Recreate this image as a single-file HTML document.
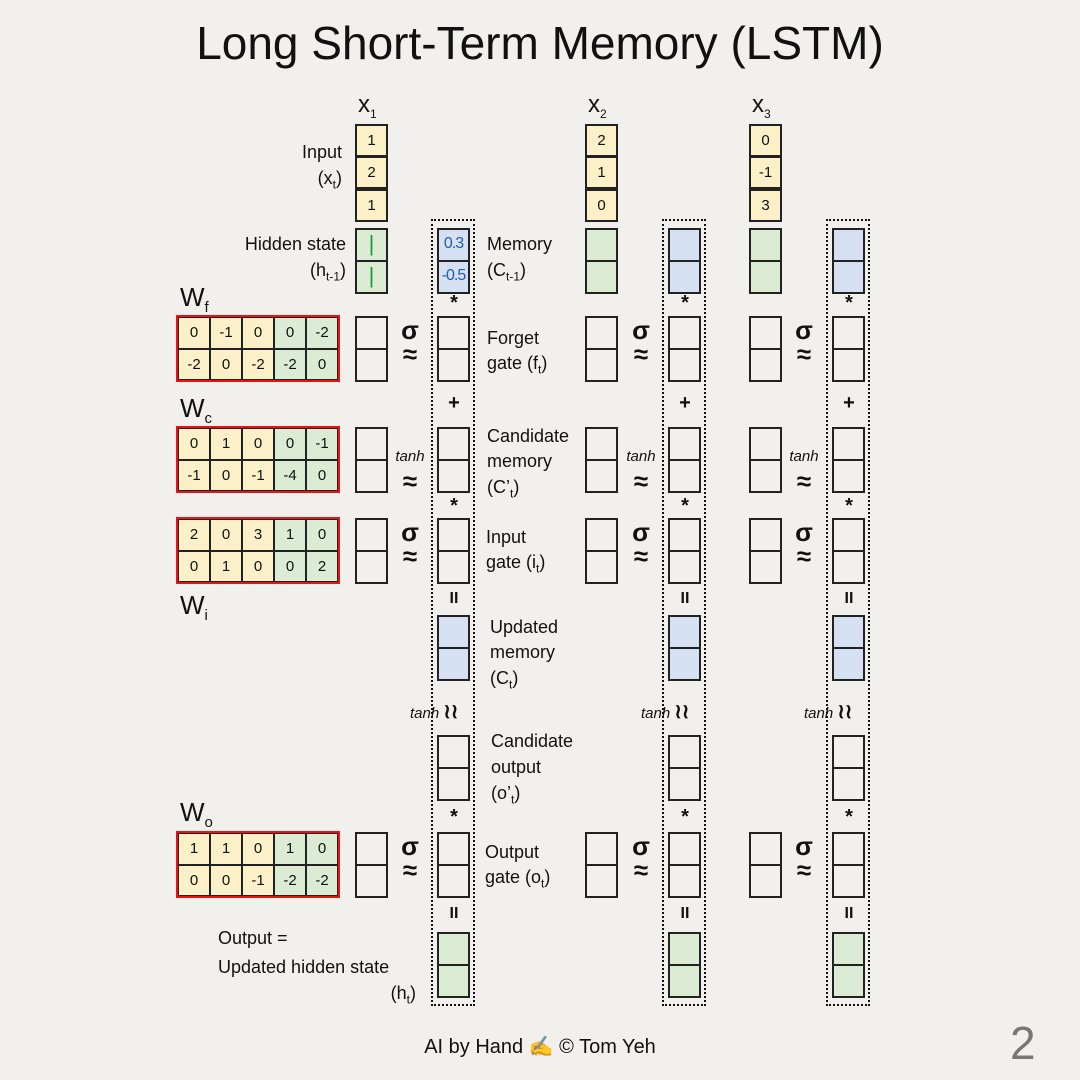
<!DOCTYPE html>
<html><head><meta charset="utf-8"><style>
body{margin:0;width:1080px;height:1080px;background:#f2f0ec;position:relative;overflow:hidden;font-family:"Liberation Sans",sans-serif;color:#111}
.a{position:absolute}
.p{position:absolute;width:33px;height:66px;border:2px solid #222;box-sizing:border-box}
.p::after{content:"";position:absolute;left:0;right:0;top:30px;height:2px;background:#222}
.y{background:#fcf0c8}.g{background:#dcebd3}.bl{background:#d5e0f3}
.c{position:absolute;width:33px;height:33px;border:2px solid #222;box-sizing:border-box;background:#fcf0c8;font-size:15px;text-align:center;line-height:29px}
.d{position:absolute;width:44px;top:219px;height:787px;border:2px dotted #111;box-sizing:border-box}
.s{position:absolute;width:30px;text-align:center;font-size:20px;font-weight:bold}
.sg{position:absolute;width:30px;text-align:center;font-size:26px;font-weight:bold;line-height:24px}
.t{position:absolute;font-size:18px;line-height:26px}
.r{text-align:right}
.m{position:absolute;border:2px solid #e11;box-sizing:border-box;width:164px;height:67px;display:grid;grid-template-columns:repeat(5,1fr);grid-template-rows:1fr 1fr}
.m div{border:1px solid #222;font-size:15px;text-align:center;line-height:29px;background:#fcf0c8}
.m div:nth-child(5n+4),.m div:nth-child(5n){background:#dcebd3}
.w{position:absolute;font-size:26px}
.w sub{font-size:15px}
sub{font-size:12px}
</style></head><body>
<div class="a" style="left:0;width:1080px;top:16px;text-align:center;font-size:46px">Long Short-Term Memory (LSTM)</div>

<div class="t" style="left:358px;top:92px;font-size:24px">x<sub>1</sub></div>
<div class="t" style="left:588px;top:92px;font-size:24px">x<sub>2</sub></div>
<div class="t" style="left:752px;top:92px;font-size:24px">x<sub>3</sub></div>

<div class="c" style="left:355px;top:124px">1</div><div class="c" style="left:355px;top:156px">2</div><div class="c" style="left:355px;top:189px">1</div>
<div class="c" style="left:585px;top:124px">2</div><div class="c" style="left:585px;top:156px">1</div><div class="c" style="left:585px;top:189px">0</div>
<div class="c" style="left:749px;top:124px">0</div><div class="c" style="left:749px;top:156px">-1</div><div class="c" style="left:749px;top:189px">3</div>

<div class="t r" style="left:240px;width:102px;top:139px">Input</div>
<div class="t r" style="left:240px;width:102px;top:165px">(x<sub>t</sub>)</div>
<div class="t r" style="left:200px;width:146px;top:231px">Hidden state</div>
<div class="t r" style="left:200px;width:146px;top:257px">(h<sub>t-1</sub>)</div>

<div class="d" style="left:431px"></div><div class="d" style="left:662px"></div><div class="d" style="left:826px"></div>

<div class="p g" style="left:355px;top:228px"></div>
<div class="a" style="left:355px;top:228px;width:33px;text-align:center;color:#1a9a3a;font-size:22px;line-height:32px">|<br>|</div>
<div class="p bl" style="left:437px;top:228px"></div>
<div class="a" style="left:437px;top:228px;width:33px;text-align:center;color:#1f5fa8;font-size:16px;line-height:32px;letter-spacing:-1px">0.3<br>-0.5</div>
<div class="p g" style="left:585px;top:228px"></div><div class="p bl" style="left:668px;top:228px"></div>
<div class="p g" style="left:749px;top:228px"></div><div class="p bl" style="left:832px;top:228px"></div>

<div class="t" style="left:487px;top:231px">Memory</div>
<div class="t" style="left:487px;top:257px">(C<sub>t-1</sub>)</div>

<div class="p" style="left:355px;top:316px"></div><div class="p" style="left:437px;top:316px"></div>
<div class="p" style="left:585px;top:316px"></div><div class="p" style="left:668px;top:316px"></div>
<div class="p" style="left:749px;top:316px"></div><div class="p" style="left:832px;top:316px"></div>
<div class="p" style="left:355px;top:427px"></div><div class="p" style="left:437px;top:427px"></div>
<div class="p" style="left:585px;top:427px"></div><div class="p" style="left:668px;top:427px"></div>
<div class="p" style="left:749px;top:427px"></div><div class="p" style="left:832px;top:427px"></div>
<div class="p" style="left:355px;top:518px"></div><div class="p" style="left:437px;top:518px"></div>
<div class="p" style="left:585px;top:518px"></div><div class="p" style="left:668px;top:518px"></div>
<div class="p" style="left:749px;top:518px"></div><div class="p" style="left:832px;top:518px"></div>
<div class="p bl" style="left:437px;top:615px"></div><div class="p bl" style="left:668px;top:615px"></div><div class="p bl" style="left:832px;top:615px"></div>
<div class="p" style="left:437px;top:735px"></div><div class="p" style="left:668px;top:735px"></div><div class="p" style="left:832px;top:735px"></div>
<div class="p" style="left:355px;top:832px"></div><div class="p" style="left:437px;top:832px"></div>
<div class="p" style="left:585px;top:832px"></div><div class="p" style="left:668px;top:832px"></div>
<div class="p" style="left:749px;top:832px"></div><div class="p" style="left:832px;top:832px"></div>
<div class="p g" style="left:437px;top:932px"></div><div class="p g" style="left:668px;top:932px"></div><div class="p g" style="left:832px;top:932px"></div>

<div class="s" style="left:439px;top:292px">*</div><div class="s" style="left:670px;top:292px">*</div><div class="s" style="left:834px;top:292px">*</div>
<div class="s" style="left:439px;top:392px">+</div><div class="s" style="left:670px;top:392px">+</div><div class="s" style="left:834px;top:392px">+</div>
<div class="s" style="left:439px;top:495px">*</div><div class="s" style="left:670px;top:495px">*</div><div class="s" style="left:834px;top:495px">*</div>
<div class="s" style="left:439px;top:590px;font-size:16px">II</div><div class="s" style="left:670px;top:590px;font-size:16px">II</div><div class="s" style="left:834px;top:590px;font-size:16px">II</div>
<div class="s" style="left:439px;top:806px">*</div><div class="s" style="left:670px;top:806px">*</div><div class="s" style="left:834px;top:806px">*</div>
<div class="s" style="left:439px;top:905px;font-size:16px">II</div><div class="s" style="left:670px;top:905px;font-size:16px">II</div><div class="s" style="left:834px;top:905px;font-size:16px">II</div>

<div class="sg" style="left:395px;top:318px">σ<br>≈</div><div class="sg" style="left:626px;top:318px">σ<br>≈</div><div class="sg" style="left:789px;top:318px">σ<br>≈</div>
<div class="sg" style="left:395px;top:440px"><span style="font-size:15px;font-style:italic;font-weight:normal">tanh</span><br>≈</div>
<div class="sg" style="left:626px;top:440px"><span style="font-size:15px;font-style:italic;font-weight:normal">tanh</span><br>≈</div>
<div class="sg" style="left:789px;top:440px"><span style="font-size:15px;font-style:italic;font-weight:normal">tanh</span><br>≈</div>
<div class="sg" style="left:395px;top:520px">σ<br>≈</div><div class="sg" style="left:626px;top:520px">σ<br>≈</div><div class="sg" style="left:789px;top:520px">σ<br>≈</div>
<div class="sg" style="left:395px;top:834px">σ<br>≈</div><div class="sg" style="left:626px;top:834px">σ<br>≈</div><div class="sg" style="left:789px;top:834px">σ<br>≈</div>
<div class="a" style="left:410px;top:699px;font-size:15px;font-style:italic">tanh <b style="font-size:20px;font-style:normal">≀≀</b></div>
<div class="a" style="left:641px;top:699px;font-size:15px;font-style:italic">tanh <b style="font-size:20px;font-style:normal">≀≀</b></div>
<div class="a" style="left:804px;top:699px;font-size:15px;font-style:italic">tanh <b style="font-size:20px;font-style:normal">≀≀</b></div>

<div class="t" style="left:487px;top:325px">Forget</div><div class="t" style="left:487px;top:350px">gate (f<sub>t</sub>)</div>
<div class="t" style="left:487px;top:423px">Candidate</div><div class="t" style="left:487px;top:448px">memory</div><div class="t" style="left:487px;top:474px">(C’<sub>t</sub>)</div>
<div class="t" style="left:486px;top:524px">Input</div><div class="t" style="left:486px;top:549px">gate (i<sub>t</sub>)</div>
<div class="t" style="left:490px;top:614px">Updated</div><div class="t" style="left:490px;top:639px">memory</div><div class="t" style="left:490px;top:665px">(C<sub>t</sub>)</div>
<div class="t" style="left:491px;top:728px">Candidate</div><div class="t" style="left:491px;top:754px">output</div><div class="t" style="left:491px;top:780px">(o’<sub>t</sub>)</div>
<div class="t" style="left:485px;top:839px">Output</div><div class="t" style="left:485px;top:864px">gate (o<sub>t</sub>)</div>
<div class="t" style="left:218px;top:925px">Output =</div>
<div class="t" style="left:218px;top:954px">Updated hidden state</div>
<div class="t r" style="left:300px;width:116px;top:980px">(h<sub>t</sub>)</div>

<div class="w" style="left:180px;top:282px">W<sub>f</sub></div>
<div class="m" style="left:176px;top:315px"><div>0</div><div>-1</div><div>0</div><div>0</div><div>-2</div><div>-2</div><div>0</div><div>-2</div><div>-2</div><div>0</div></div>
<div class="w" style="left:180px;top:393px">W<sub>c</sub></div>
<div class="m" style="left:176px;top:426px"><div>0</div><div>1</div><div>0</div><div>0</div><div>-1</div><div>-1</div><div>0</div><div>-1</div><div>-4</div><div>0</div></div>
<div class="m" style="left:176px;top:517px"><div>2</div><div>0</div><div>3</div><div>1</div><div>0</div><div>0</div><div>1</div><div>0</div><div>0</div><div>2</div></div>
<div class="w" style="left:180px;top:590px">W<sub>i</sub></div>
<div class="w" style="left:180px;top:797px">W<sub>o</sub></div>
<div class="m" style="left:176px;top:831px"><div>1</div><div>1</div><div>0</div><div>1</div><div>0</div><div>0</div><div>0</div><div>-1</div><div>-2</div><div>-2</div></div>

<div class="a" style="left:0;width:1080px;top:1034px;text-align:center;font-size:20px">AI by Hand ✍️ © Tom Yeh</div>
<div class="a" style="left:1010px;top:1016px;font-size:46px;color:#777">2</div>
</body></html>
